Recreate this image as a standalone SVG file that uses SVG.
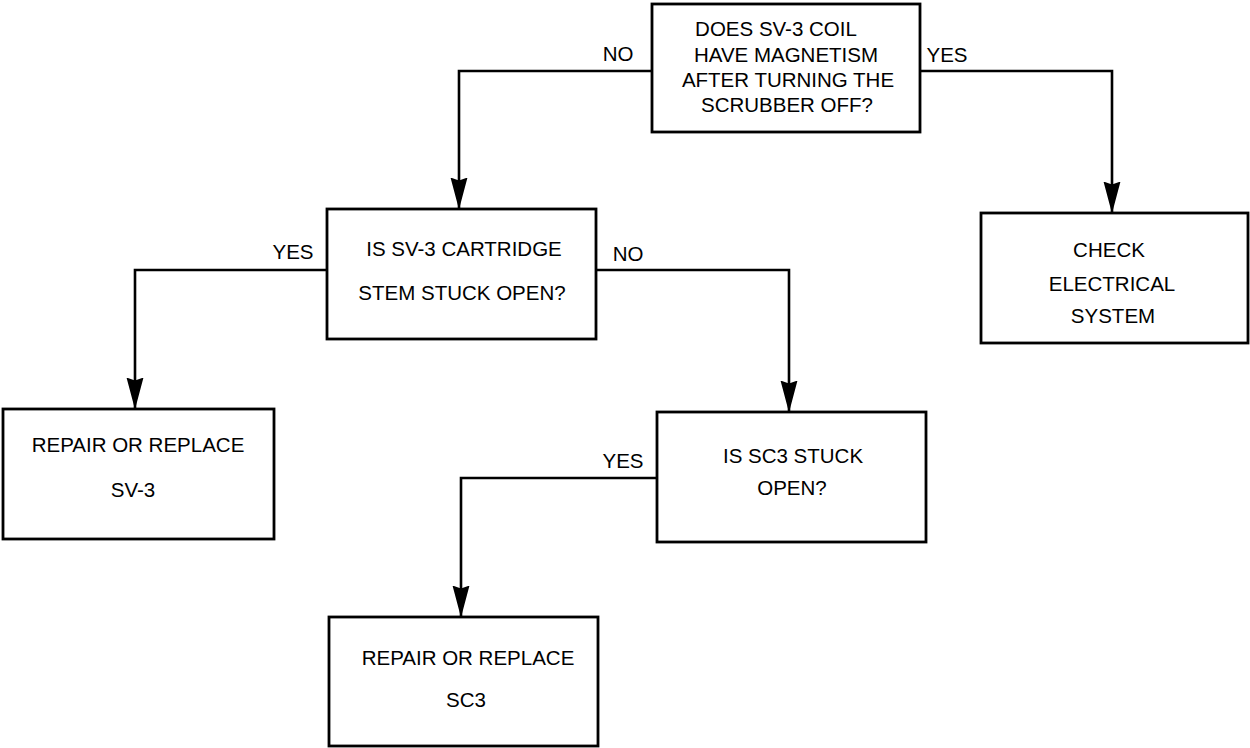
<svg xmlns="http://www.w3.org/2000/svg" width="1250" height="748" viewBox="0 0 1250 748">
<style>
.box{fill:#fff;stroke:#000;stroke-width:2.8}
.t{font-family:"Liberation Sans",Arial,sans-serif;font-size:20.5px;fill:#000;text-anchor:middle}
.c{fill:none;stroke:#000;stroke-width:2.6}
</style>
<defs>
<marker id="ah" markerUnits="userSpaceOnUse" markerWidth="32" markerHeight="18" viewBox="0 0 32 18" refX="31.5" refY="9" orient="auto">
<path d="M0,0.5 L32,9 L0,17.5 L3,9 Z" fill="#000"/>
</marker>
</defs>
<rect width="1250" height="748" fill="#fff"/>
<g id="connectors">
<polyline class="c" points="652,71 459,71 459,209" marker-end="url(#ah)"/>
<polyline class="c" points="920,71 1112,71 1112,213" marker-end="url(#ah)"/>
<polyline class="c" points="327,270 135,270 135,409" marker-end="url(#ah)"/>
<polyline class="c" points="596,270 789,270 789,412" marker-end="url(#ah)"/>
<polyline class="c" points="657,478 461,478 461,617" marker-end="url(#ah)"/>
<text class="t" x="618" y="61">NO</text>
<text class="t" x="947" y="62">YES</text>
<text class="t" x="293" y="259">YES</text>
<text class="t" x="628" y="261">NO</text>
<text class="t" x="623" y="468">YES</text>
</g>
<g id="q1">
<rect class="box" x="652" y="4" width="268" height="128"/>
<text class="t" x="776" y="36">DOES SV-3 COIL</text>
<text class="t" x="786" y="62">HAVE MAGNETISM</text>
<text class="t" x="788" y="87">AFTER TURNING THE</text>
<text class="t" x="787" y="112">SCRUBBER OFF?</text>
</g>
<g id="q2">
<rect class="box" x="327" y="209" width="269" height="130"/>
<text class="t" x="464" y="256">IS SV-3 CARTRIDGE</text>
<text class="t" x="462" y="300">STEM STUCK OPEN?</text>
</g>
<g id="a1">
<rect class="box" x="981" y="213" width="267" height="130"/>
<text class="t" x="1109" y="257">CHECK</text>
<text class="t" x="1112" y="291">ELECTRICAL</text>
<text class="t" x="1113" y="323">SYSTEM</text>
</g>
<g id="a2">
<rect class="box" x="3" y="409" width="271" height="130"/>
<text class="t" x="138" y="452">REPAIR OR REPLACE</text>
<text class="t" x="133" y="497">SV-3</text>
</g>
<g id="q3">
<rect class="box" x="657" y="412" width="269" height="130"/>
<text class="t" x="793" y="463">IS SC3 STUCK</text>
<text class="t" x="792" y="495">OPEN?</text>
</g>
<g id="a3">
<rect class="box" x="329" y="617" width="269" height="129"/>
<text class="t" x="468" y="665">REPAIR OR REPLACE</text>
<text class="t" x="466" y="707">SC3</text>
</g>
</svg>
